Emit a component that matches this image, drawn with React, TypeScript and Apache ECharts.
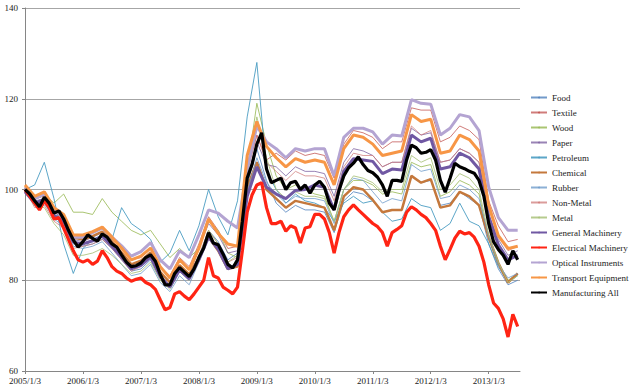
import React, { useEffect, useRef } from "react";
import * as echarts from "echarts";

// Monthly sample dates 2005/1 .. 2013/7 (103 points)
const monthLabels: string[] = [];
for (let y = 2005; y <= 2013; y++) {
  for (let m = 1; m <= 12; m++) {
    if (y === 2013 && m > 7) break;
    monthLabels.push(`${y}/${m}`);
  }
}
// Every second month (52 points)
const biMonthLabels = monthLabels.filter((_, i) => i % 2 === 0);

const yTicks = [60, 80, 100, 120, 140];

const manufacturingAll = [
  100.0, 99.0, 97.5, 96.2, 98.3, 97.0, 94.8, 95.3, 93.5, 91.0,
  88.9, 87.3, 88.5, 90.0, 89.2, 88.6, 90.2, 89.5, 88.0, 87.3,
  85.6, 84.0, 83.0, 83.2, 83.8, 85.0, 85.6, 84.2, 81.3, 79.0,
  79.0, 81.5, 82.8, 81.8, 80.8, 82.5, 85.0, 87.1, 90.5, 88.2,
  87.8, 85.8, 83.5, 82.7, 84.5, 93.0, 102.5, 105.5, 110.0, 112.5,
  104.5, 101.5, 102.0, 102.5, 100.0, 101.5, 101.8, 100.0, 101.0, 99.2,
  101.0, 101.8, 100.5, 97.0, 95.5, 99.8, 103.0, 104.8, 105.8, 107.2,
  105.5, 104.2, 103.7, 102.7, 101.0, 98.5, 102.0, 102.0, 101.8, 106.5,
  109.8, 109.2, 108.0, 108.2, 108.8, 106.5, 102.0, 99.4, 102.5, 105.8,
  105.0, 104.6, 104.0, 103.6, 102.0, 98.5, 92.5, 88.5, 86.8, 85.5,
  83.5, 86.5, 84.5,
];

const electrical = [
  100, 98.5, 97, 95.5, 97.5, 96, 93.5, 93.8, 91.5, 89,
  86.5, 84.5, 84, 84.5, 83.5, 84.2, 86.5, 85, 83, 82,
  81.5, 80.5, 79.8, 80.2, 80.5, 79.5, 79, 78, 75.7, 73.5,
  74, 77, 77.5, 76.5, 75.7, 77, 78.5, 80, 85, 81,
  80.5, 78.5, 77.8, 77, 78.5, 86.5, 95, 98.8, 101, 101.5,
  96, 92.5, 92.5, 93, 90.8, 92, 91.5, 88.2, 91.5, 91.8,
  94.5, 94.5, 93.5, 90.5, 86, 90.5, 94, 95.5, 96.6, 95.5,
  94.5, 93.5, 92.5, 91.8, 90.5, 87.5, 90.5, 91.2, 92, 95,
  96.2, 95.5, 94.5, 93.8, 92.5, 91, 87.5, 84.5, 86.8, 89.3,
  90.8, 90.2, 90.5, 89.5, 87.5, 84, 79, 75, 73.8, 71.5,
  67.5, 72.5, 69.8,
];

// bimonthly series
const transport = [
  101, 98.5, 99.5, 96, 94.5, 90,
  90, 90.7, 91.7, 89.5, 87.1, 84.5, 85.3, 87.1, 83, 80.5, 84.5, 82.3,
  87, 93.5, 90.3, 88, 87.5,
  107.5, 115, 109.5,
  107, 105, 106.8, 106, 106.5, 106, 101, 109, 112, 111.5,
  110, 107.5, 108, 108.5, 116.5, 115, 115.5, 108, 108.5, 112, 111, 108.5,
  96.5, 89.8, 87, 87.5,
];
const optical = [
  100.5, 98, 99, 95.5, 94, 89.5,
  89.5, 90.5, 91.5, 89.5, 87.6, 85.3, 86.3, 88.3, 84.5, 82.5, 86.5, 85,
  90, 95.5, 94.8, 93, 91.5,
  104.5, 114, 110.5,
  109, 107, 109, 108.5, 109, 109, 103, 111.5, 113.5, 113.5,
  112.7, 110, 112, 111.8, 119.8, 119, 118.8, 112, 113.5, 116.5, 116, 113,
  100.5, 93.8, 91, 91,
];
const generalMachinery = [
  99.5, 97, 97.8, 94.3, 93, 88.4,
  88, 88.7, 89.7, 87.5, 85.1, 82.5, 83.3, 85.1, 80.8, 78.5, 82.3, 80.3,
  84.5, 89.5, 86.8, 82.5, 83.5,
  98.5, 105, 100.5,
  99, 98, 99.8, 100, 101, 100.5, 95.5, 104, 106.8, 106.5,
  106.2, 103.5, 104.5, 104.3, 112, 110.5, 111.3, 104.5, 105, 108, 107, 104.5,
  94, 87.8, 84.5, 85.5,
];
const chemical = [
  100.5, 98, 98.8, 95.3, 94, 89.4,
  89, 89.7, 90.7, 88.5, 86.1, 83.5, 84.3, 86.1, 81.8, 79.5, 83.3, 81.3,
  85, 89.5, 86.5, 82.5, 83,
  100.5, 106, 100,
  98, 96, 97.5, 97, 96.5, 96, 91, 98.5, 100.5, 100,
  97.7, 95, 95.5, 95.5, 103, 101.5, 102.3, 96, 96.5, 99.5, 98.5, 96.5,
  89.5, 83.8, 79.5, 81.5,
];
const petroleum = [
  100, 101, 106, 98, 88, 81.5,
  87, 89, 90, 89, 96, 92.5, 91, 89, 84, 86, 91, 86.5,
  92, 100, 94, 90, 97.5,
  116, 128, 104,
  100, 97, 99, 97.5, 97, 96, 93, 97, 98.5, 97,
  97.5, 95, 93, 93.5, 98, 96.5, 96, 91, 92.5, 97, 93, 92,
  88, 83, 79.5, 81,
];
const wood = [
  100, 98.5, 99, 97, 99, 95,
  95, 94.5, 98, 95, 93, 91, 90, 91, 88, 85, 87, 85,
  87, 93, 91, 86, 85,
  104, 119, 110,
  103, 100, 101, 100, 99, 98.5, 93, 100, 102, 102,
  101, 99, 99.5, 99, 106, 105, 105.5, 98.5, 99.5, 102, 101, 99,
  89, 83.5, 80, 81.5,
];
const metal = [
  100, 96.5, 96, 92.5, 90, 85.5,
  85.5, 86, 87, 85.5, 83.5, 81.5, 82, 84, 80, 78, 82, 80,
  85, 91, 88, 84, 85.5,
  103, 116, 107,
  100, 98, 99.5, 98.5, 98.5, 98, 93, 100, 103, 102.5,
  101.5, 99.5, 100, 100, 107.5, 106, 107, 100, 101, 103.5, 102.5, 100,
  90, 84, 79.5, 81,
];
const food = [
  100, 97, 97, 94, 92.5, 88,
  87.5, 88, 89, 87, 84.5, 82, 82.5, 84.5, 80.5, 78.5, 82, 80,
  85, 91, 88.5, 84.5, 86,
  101, 109, 102,
  97, 95, 96.5, 95.5, 95.5, 95, 90.5, 97.5, 99.5, 99,
  97.5, 95, 95.5, 95.5, 103, 101.5, 102, 96.5, 97, 99.5, 98, 96.5,
  88, 82.5, 79, 80,
];
const rubber = [
  100, 96.5, 97, 93.5, 92, 87.5,
  87, 87.5, 88.5, 86, 83.5, 81, 81.5, 83.5, 79.5, 77.5, 81, 79,
  84, 89.5, 86.5, 82.5, 83.5,
  99.5, 107, 101.5,
  99, 97, 98.5, 98, 98, 97.5, 92.5, 100, 102.5, 102,
  99.5, 97, 98, 97.5, 105.5, 104, 104.5, 98, 98.5, 101, 100, 98,
  89.5, 83.5, 80.5, 81.5,
];
const textile = [
  100, 98, 99, 95.5, 94, 89.5,
  89.5, 90.5, 91.5, 89, 87, 84.5, 85, 87, 83, 81, 85, 83,
  88, 94, 91, 87, 87.5,
  104, 112, 106.5,
  108, 106.5, 108.5, 107.5, 108, 107.5, 102.5, 110, 113, 112.5,
  111.5, 109, 110.5, 110.5, 118, 117.5, 117.5, 110.5, 111.5, 114, 113, 111,
  97.5, 92, 88.5, 89,
];
const nonMetal = [
  100, 96, 96.5, 93, 91.5, 87,
  87.5, 88, 89, 87, 84.5, 82, 83, 85, 80.5, 78.5, 82, 80.5,
  85.5, 91, 88, 84, 85,
  104, 112, 106,
  104, 102, 104, 103, 103, 102.5, 97.5, 105, 108, 107.5,
  107.5, 105, 106, 106, 114, 112, 113, 106, 106.5, 109, 108, 106,
  95.5, 90, 86.5, 87.5,
];
const paper = [
  100, 97.5, 98, 95, 93.5, 89,
  88.5, 89.5, 90.5, 88, 86, 83.5, 84, 86, 81.5, 79.5, 83, 81,
  87, 92.5, 90, 86, 86.5,
  102.5, 110.5, 105.5,
  105, 103, 105, 104, 104, 103.5, 98.5, 106, 109, 108.5,
  107.5, 105, 106, 106, 113.5, 112, 112.5, 106, 106.5, 109, 108, 106,
  94.5, 89, 85.5, 86.5,
];

const toX = (label: string) => {
  const [y, m] = label.split("/").map(Number);
  return y + (m - 1) / 12;
};

const pair = (labels: string[], vals: number[]) =>
  vals.map((v, i) => [toX(labels[i]), v]);

type Def = {
  name: string;
  labels: string[];
  vals: number[];
  color: string;
  width: number;
  opacity?: number;
};

const defs: Def[] = [
  { name: "Food", labels: biMonthLabels, vals: food, color: "#4F81BD", width: 1, opacity: 0.8 },
  { name: "Textile", labels: biMonthLabels, vals: textile, color: "#C0504D", width: 1, opacity: 0.75 },
  { name: "Wood", labels: biMonthLabels, vals: wood, color: "#9BBB59", width: 1, opacity: 0.85 },
  { name: "Paper", labels: biMonthLabels, vals: paper, color: "#8064A2", width: 1, opacity: 0.8 },
  { name: "Petroleum", labels: biMonthLabels, vals: petroleum, color: "#4A9CC2", width: 1, opacity: 0.9 },
  { name: "Chemical", labels: biMonthLabels, vals: chemical, color: "#C4783C", width: 2.5 },
  { name: "Rubber", labels: biMonthLabels, vals: rubber, color: "#6F9CCB", width: 1, opacity: 0.8 },
  { name: "Non-Metal", labels: biMonthLabels, vals: nonMetal, color: "#CF7B79", width: 1, opacity: 0.75 },
  { name: "Metal", labels: biMonthLabels, vals: metal, color: "#A9C27A", width: 1, opacity: 0.85 },
  { name: "General Machinery", labels: biMonthLabels, vals: generalMachinery, color: "#7058A3", width: 3 },
  { name: "Electrical Machinery", labels: monthLabels, vals: electrical, color: "#FF2414", width: 3.2 },
  { name: "Optical Instruments", labels: biMonthLabels, vals: optical, color: "#B4A4D2", width: 3 },
  { name: "Transport Equipment", labels: biMonthLabels, vals: transport, color: "#F79646", width: 3 },
  { name: "Manufacturing All", labels: monthLabels, vals: manufacturingAll, color: "#000000", width: 3.2 },
];

const FONT = "'Liberation Serif', 'Times New Roman', serif";

export default function App() {
  const ref = useRef<HTMLDivElement>(null);
  useEffect(() => {
    document.body.style.margin = "0";
    if (!ref.current) return;
    const chart = echarts.init(ref.current, undefined, { renderer: "svg" });
    chart.setOption({
      animation: false,
      backgroundColor: "#ffffff",
      grid: { left: 25, right: 110, top: 8, bottom: 21, containLabel: false },
      legend: {
        orient: "vertical",
        left: 530,
        top: 92,
        itemWidth: 16,
        itemHeight: 2,
        itemGap: 4,
        padding: 0,
        textStyle: { fontFamily: FONT, fontSize: 9, color: "#222", lineHeight: 11 },
        data: defs.map((d) => d.name),
      },
      xAxis: {
        type: "value",
        min: 2005,
        max: 2013.54,
        interval: 1,
        splitLine: { show: false },
        axisLine: { lineStyle: { color: "#868686", width: 1 } },
        axisTick: { show: true, length: 3, lineStyle: { color: "#868686" } },
        axisLabel: {
          formatter: (v: number) => `${Math.round(v)}/1/3`,
          fontFamily: FONT,
          fontSize: 9,
          color: "#222",
          margin: 5,
          showMaxLabel: false,
        },
      },
      yAxis: {
        type: "value",
        min: yTicks[0],
        max: yTicks[yTicks.length - 1],
        interval: 20,
        splitLine: { lineStyle: { color: "#a6a6a6", width: 1 } },
        axisLine: { show: true, lineStyle: { color: "#868686", width: 1 } },
        axisTick: { show: true, length: 3, lineStyle: { color: "#868686" } },
        axisLabel: { fontFamily: FONT, fontSize: 9, color: "#222", margin: 7 },
      },
      series: defs.map((d) => ({
        name: d.name,
        type: "line",
        data: pair(d.labels, d.vals),
        showSymbol: false,
        symbol: "none",
        color: d.color,
        lineStyle: {
          color: d.color,
          width: d.width,
          opacity: d.opacity ?? 1,
        },
        emphasis: { disabled: true },
      })),
    });
    return () => chart.dispose();
  }, []);
  return <div ref={ref} style={{ width: 630, height: 392 }} />;
}
